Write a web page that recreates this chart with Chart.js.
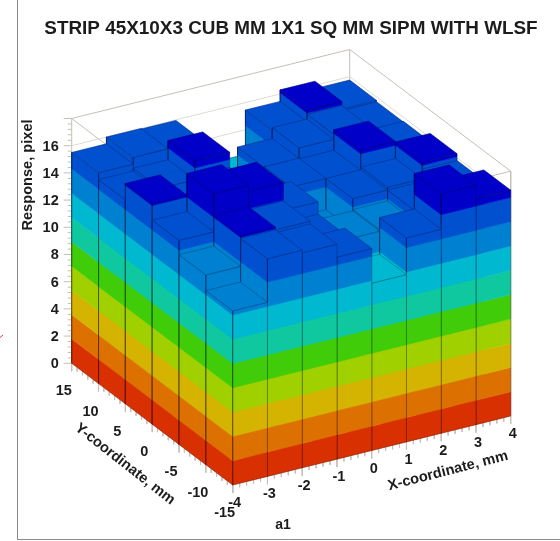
<!DOCTYPE html>
<html>
<head>
<meta charset="utf-8">
<title>Strip response</title>
<script src="https://cdn.jsdelivr.net/npm/chart.js@4/dist/chart.umd.min.js"></script>
<style>
  html, body { margin: 0; padding: 0; background: #fff; }
  canvas { display: block; }
</style>
</head>
<body>
<canvas id="legoChart" width="560" height="541"></canvas>
<script>
// Bin edges of the histogram
const xEdges = [-4, -3, -2, -1, 0, 1, 2, 3, 4];
const yEdges = [-15, -10, -5, 0, 5, 10, 15];

// Response per bin, one list per Y bin, going along X
const rowY0 = [12.8, 16.0, 15.8, 14.85, 12.3, 15.0, 17.6, 16.6];
const rowY1 = [13.95, 16.2, 16.0, 14.4, 14.0, 14.1, 14.9, 15.8];
const rowY2 = [15.0, 17.8, 17.35, 15.3, 12.6, 14.9, 15.1, 16.3];
const rowY3 = [16.2, 15.2, 15.5, 14.5, 14.9, 14.85, 16.35, 15.7];
const rowY4 = [15.0, 15.2, 16.6, 12.0, 14.85, 15.65, 16.0, 15.65];
const rowY5 = [15.5, 16.0, 15.95, 12.0, 12.2, 15.45, 16.3, 15.75];
const rows = [rowY0, rowY1, rowY2, rowY3, rowY4, rowY5];

// Contour levels and their colours
const levels = [0, 1.786, 3.571, 5.357, 7.143, 8.929, 10.714, 12.5, 14.286, 16.071, 18];
const levelColors = ['#d83000', '#dc7000', '#d4b400', '#a0d000', '#40cc08',
                     '#10c8a0', '#00b8d0', '#0080d0', '#0050d0', '#0000c8'];

// Tick labels
const zTicks = [0, 2, 4, 6, 8, 10, 12, 14, 16];
const xTicks = [-4, -3, -2, -1, 0, 1, 2, 3, 4];
const yTicks = [-15, -10, -5, 0, 5, 10, 15];

const titleText = 'STRIP 45X10X3 CUB MM 1X1 SQ MM SIPM WITH WLSF';
const zTitle = 'Response, pixel';
const xTitle = 'X-coordinate, mm';
const yTitle = 'Y-coordinate, mm';
const padLabel = 'a1';

const zMax = 18;
const wallColor = '#c4c0b6';
const edgeColor = 'rgba(0,0,30,0.3)';

// Parallel projection of the lego box on the page
function project(x, y, z) {
    return {
        x: 232.7 + 34.75 * (x + 4) - 5.367 * (y + 15),
        y: 485 - 8.625 * (x + 4) - 4.057 * (y + 15) - 13.6 * z
    };
}

// Everything gets pushed back to front, reversed at the end for Chart.js
let backToFront = [];

function addLine(points, color, width) {
    backToFront.push({
        data: points,
        showLine: true,
        fill: false,
        borderColor: color,
        borderWidth: width,
        pointRadius: 0,
        tension: 0,
        clip: false
    });
}

function addFace(points, color) {
    backToFront.push({
        data: points.concat([points[0]]),
        showLine: true,
        fill: 'shape',
        backgroundColor: color,
        borderColor: color,
        borderWidth: 0.5,
        pointRadius: 0,
        tension: 0,
        clip: false
    });
}

function levelColor(z) {
    for (let k = levelColors.length - 1; k >= 0; k--) {
        if (z >= levels[k]) return levelColors[k];
    }
    return levelColors[0];
}

// A vertical wall between two floor points, cut in bands at the contour levels
function addSide(x0, y0, x1, y1, top) {
    for (let k = 0; k < levelColors.length; k++) {
        if (levels[k] >= top) break;
        let high = Math.min(levels[k + 1], top);
        addFace([project(x0, y0, levels[k]), project(x1, y1, levels[k]),
                 project(x1, y1, high), project(x0, y0, high)], levelColors[k]);
    }
    let outline = [project(x0, y0, 0), project(x1, y1, 0), project(x1, y1, top), project(x0, y0, top)];
    addLine(outline.concat([outline[0]]), edgeColor, 0.8);
}

function addBar(i, j) {
    let x0 = xEdges[i], x1 = xEdges[i + 1];
    let y0 = yEdges[j], y1 = yEdges[j + 1];
    let top = rows[j][i];
    addSide(x0, y1, x0, y0, top);  // face looking to -X
    addSide(x0, y0, x1, y0, top);  // face looking to -Y
    let lid = [project(x0, y0, top), project(x1, y0, top), project(x1, y1, top), project(x0, y1, top)];
    addFace(lid, levelColor(top));
    addLine(lid.concat([lid[0]]), edgeColor, 0.8);
}

// Walls, box edges and grid lines behind the bars
function addBox() {
    let xMin = xEdges[0], xMax = xEdges[xEdges.length - 1];
    let yMin = yEdges[0], yMax = yEdges[yEdges.length - 1];
    addLine([project(xMin, yMax, 0), project(xMin, yMax, zMax), project(xMax, yMax, zMax),
             project(xMax, yMin, zMax), project(xMax, yMin, 0)], wallColor, 1);
    addLine([project(xMax, yMax, 0), project(xMax, yMax, zMax)], wallColor, 1);
    addLine([project(xMin, yMax, zMax), project(xMin, yMin, zMax), project(xMax, yMin, zMax)], wallColor, 1);
    zTicks.forEach(z => {
        addLine([project(xMin, yMax, z), project(xMax, yMax, z), project(xMax, yMin, z)], '#dedbd4', 1);
    });
    // Z ticks point left, floor ticks point down
    for (let z = 0; z <= zMax + 0.01; z += 0.4) {
        let p = project(xMin, yMax, z);
        let major = Math.abs(z / 2 - Math.round(z / 2)) < 0.01;
        addLine([p, { x: p.x - (major ? 8 : 4), y: p.y }], wallColor, 1);
    }
    for (let x = xMin; x <= xMax + 0.01; x += 0.2) {
        let p = project(x, yMin, 0);
        let major = Math.abs(x - Math.round(x)) < 0.01;
        addLine([p, { x: p.x, y: p.y + (major ? 8 : 4) }], wallColor, 1);
    }
    for (let y = yMin; y <= yMax + 0.01; y += 1) {
        let p = project(xMin, y, 0);
        let major = Math.abs(y / 5 - Math.round(y / 5)) < 0.01;
        addLine([p, { x: p.x, y: p.y + (major ? 8 : 4) }], wallColor, 1);
    }
}

// Page frame left over in the scanned figure
function addFrame() {
    addLine([{ x: 17.5, y: 0 }, { x: 17.5, y: 539.5 }, { x: 560, y: 539.5 }], '#8a8a8a', 1);
    addLine([{ x: 0, y: 337.5 }, { x: 3, y: 335 }], '#f0208c', 1);
}

addFrame();
addBox();
for (let j = rows.length - 1; j >= 0; j--) {
    for (let i = rows[j].length - 1; i >= 0; i--) {
        addBar(i, j);
    }
}

// All the labels, placed through the same scales as the bars
const labelPlugin = {
    id: 'labelPlugin',
    afterDraw(chart) {
        const ctx = chart.ctx;
        const sx = chart.scales.x, sy = chart.scales.y;

        function text(str, x, y, font, angle, align) {
            ctx.save();
            ctx.translate(sx.getPixelForValue(x), sy.getPixelForValue(y));
            ctx.rotate((angle || 0) * Math.PI / 180);
            ctx.font = font;
            ctx.fillStyle = '#1c1c1c';
            ctx.textAlign = align || 'center';
            ctx.textBaseline = 'middle';
            ctx.fillText(str, 0, 0);
            ctx.restore();
        }

        const tickFont = 'bold 14.5px "Liberation Sans"';
        const axisFont = 'bold 14.6px "Liberation Sans"';
        text(titleText, 291, 29, 'bold 18.9px "Liberation Sans"');
        text(padLabel, 283, 525, 'bold 14px "Liberation Sans"');

        zTicks.forEach(z => {
            let p = project(xEdges[0], yEdges[yEdges.length - 1], z);
            text(String(z), p.x - 13, p.y + 1, tickFont, 0, 'right');
        });
        xTicks.forEach(x => {
            let p = project(x, yEdges[0], 0);
            text(String(x), p.x + 2, p.y + 18, tickFont);
        });
        yTicks.forEach(y => {
            let p = project(xEdges[0], y, 0);
            text(String(y), p.x - 8, p.y + 28, tickFont);
        });

        text(zTitle, 28, 175, axisFont, -90);
        text(xTitle, 448, 471, axisFont, -14.4);
        text(yTitle, 125, 464, axisFont, 38);
    }
};

const chart = new Chart(document.getElementById('legoChart').getContext('2d'), {
    type: 'scatter',
    data: { datasets: backToFront.reverse() },
    options: {
        responsive: false,
        animation: false,
        events: [],
        layout: { padding: 0 },
        plugins: { legend: { display: false }, title: { display: false }, tooltip: { enabled: false } },
        scales: {
            x: { type: 'linear', min: 0, max: 560, display: false },
            y: { type: 'linear', min: 0, max: 541, reverse: true, display: false }
        }
    },
    plugins: [labelPlugin]
});
</script>
</body>
</html>
